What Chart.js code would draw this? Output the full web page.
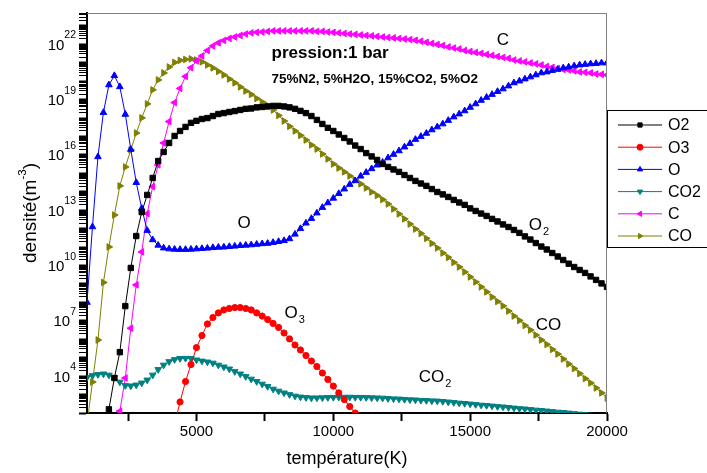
<!DOCTYPE html>
<html>
<head>
<meta charset="utf-8">
<script src="https://cdn.jsdelivr.net/npm/chart.js@4/dist/chart.umd.min.js"></script>
<style>
  html, body { margin: 0; padding: 0; background: #fff; }
  #wrap { width: 707px; height: 473px; }
</style>
</head>
<body>
<div id="wrap"><canvas id="chart"></canvas></div>
<script>
// temperature grid (K)
const temperatures = [
  1000, 1200, 1400, 1600, 1800, 2000, 2200, 2400, 2600, 2800,
  3000, 3200, 3400, 3600, 3800, 4000, 4200, 4400, 4600, 4800,
  5000, 5200, 5400, 5600, 5800, 6000, 6200, 6400, 6600, 6800,
  7000, 7200, 7400, 7600, 7800, 8000, 8200, 8400, 8600, 8800,
  9000, 9200, 9400, 9600, 9800, 10000, 10200, 10400, 10600, 10800,
  11000, 11200, 11400, 11600, 11800, 12000, 12200, 12400, 12600, 12800,
  13000, 13200, 13400, 13600, 13800, 14000, 14200, 14400, 14600, 14800,
  15000, 15200, 15400, 15600, 15800, 16000, 16200, 16400, 16600, 16800,
  17000, 17200, 17400, 17600, 17800, 18000, 18200, 18400, 18600, 18800,
  19000, 19200, 19400, 19600, 19800, 20000
];

// densities, stored as log10(m^-3)
const o2Exp = [
  null, null, null, 0.5, 2.2, 3.9, 5.3, 7.8, 9.87, 11.6,
  12.9, 13.83, 14.75, 15.67, 16.16, 16.65, 17.03, 17.3, 17.52, 17.74,
  17.85, 17.95, 18.0, 18.11, 18.22, 18.27, 18.33, 18.38, 18.44, 18.5,
  18.52, 18.58, 18.6, 18.63, 18.66, 18.66, 18.63, 18.58, 18.5, 18.39,
  18.27, 18.11, 17.9, 17.68, 17.47, 17.3, 17.11, 16.92, 16.73, 16.51,
  16.32, 16.1, 15.92, 15.73, 15.51, 15.35, 15.21, 15.08, 14.91, 14.75,
  14.59, 14.45, 14.32, 14.15, 13.99, 13.86, 13.72, 13.56, 13.42, 13.29,
  13.1, 12.96, 12.82, 12.69, 12.53, 12.39, 12.23, 12.09, 11.93, 11.77,
  11.58, 11.41, 11.22, 11.03, 10.87, 10.68, 10.49, 10.3, 10.1, 9.92,
  9.76, 9.6, 9.41, 9.22, 9.03, 8.84
];
const o3Exp = [
  null, null, null, null, null, null, null, null, null, null,
  null, null, null, null, null, null, 1.4, 2.6, 3.71, 4.63,
  5.55, 6.2, 6.83, 7.18, 7.43, 7.59, 7.67, 7.72, 7.72, 7.67,
  7.59, 7.43, 7.26, 7.07, 6.86, 6.64, 6.34, 6.02, 5.69, 5.42,
  5.12, 4.82, 4.52, 4.17, 3.82, 3.46, 3.09, 2.73, 2.35, 2.0,
  1.65, null, null, null, null, null, null, null, null, null,
  null, null, null, null, null, null, null, null, null, null,
  null, null, null, null, null, null, null, null, null, null,
  null, null, null, null, null, null, null, null, null, null,
  null, null, null, null, null, null
];
const oExp = [
  8.0, 12.1, 15.9, 18.3, 19.8, 20.3, 19.7, 18.2, 16.3, 14.5,
  13.1, 11.9, 11.4, 11.1, 10.95, 10.9, 10.88, 10.87, 10.87, 10.88,
  10.9, 10.92, 10.94, 10.97, 10.99, 11.0, 11.03, 11.05, 11.08, 11.1,
  11.12, 11.15, 11.18, 11.2, 11.25, 11.3, 11.35, 11.45, 11.7, 12.0,
  12.3, 12.55, 12.85, 13.15, 13.4, 13.65, 13.9, 14.15, 14.4, 14.6,
  14.85, 15.05, 15.25, 15.45, 15.6, 15.84, 16.03, 16.22, 16.43, 16.62,
  16.84, 17.0, 17.17, 17.36, 17.52, 17.68, 17.87, 18.06, 18.22, 18.39,
  18.58, 18.77, 18.96, 19.12, 19.28, 19.44, 19.58, 19.74, 19.91, 20.01,
  20.12, 20.23, 20.34, 20.45, 20.5, 20.58, 20.64, 20.72, 20.77, 20.83,
  20.88, 20.91, 20.94, 20.96, 20.99, 20.99
];
const co2Exp = [
  3.93, 4.03, 4.09, 4.12, 4.06, 3.93, 3.68, 3.49, 3.47, 3.52,
  3.63, 3.79, 4.06, 4.36, 4.6, 4.79, 4.9, 4.96, 4.97, 4.96,
  4.88, 4.82, 4.77, 4.71, 4.6, 4.5, 4.39, 4.25, 4.12, 3.98,
  3.84, 3.71, 3.57, 3.44, 3.3, 3.19, 3.09, 3.0, 2.92, 2.87,
  2.84, 2.82, 2.82, 2.83, 2.84, 2.85, 2.86, 2.86, 2.86, 2.85,
  2.85, 2.84, 2.83, 2.82, 2.81, 2.79, 2.77, 2.76, 2.74, 2.72,
  2.71, 2.69, 2.68, 2.66, 2.65, 2.63, 2.6, 2.57, 2.54, 2.52,
  2.49, 2.46, 2.43, 2.41, 2.38, 2.35, 2.33, 2.3, 2.27, 2.24,
  2.22, 2.19, 2.16, 2.14, 2.11, 2.08, 2.05, 2.03, 2.0, 1.97,
  1.94, 1.91, 1.88, 1.85, 1.82, 1.79
];
const cExp = [
  null, null, null, null, null, 0.3, 2.1, 3.9, 6.6, 8.95,
  10.74, 12.82, 14.28, 15.46, 16.65, 17.81, 18.84, 19.61, 20.26, 20.73,
  21.1, 21.37, 21.67, 21.91, 22.08, 22.21, 22.32, 22.4, 22.48, 22.56,
  22.62, 22.65, 22.67, 22.7, 22.73, 22.73, 22.73, 22.73, 22.73, 22.73,
  22.73, 22.73, 22.7, 22.7, 22.67, 22.65, 22.62, 22.59, 22.56, 22.54,
  22.51, 22.48, 22.46, 22.43, 22.4, 22.37, 22.35, 22.32, 22.29, 22.26,
  22.22, 22.17, 22.11, 22.05, 21.99, 21.94, 21.86, 21.8, 21.75, 21.67,
  21.61, 21.56, 21.51, 21.45, 21.4, 21.34, 21.29, 21.24, 21.15, 21.1,
  21.05, 20.99, 20.94, 20.88, 20.8, 20.75, 20.69, 20.64, 20.61, 20.56,
  20.5, 20.48, 20.45, 20.39, 20.37, 20.34
];
const coExp = [
  1.4, 3.68, 5.96, 9.08, 11.01, 12.74, 14.32, 15.35, 16.27, 17.19,
  18.01, 18.77, 19.53, 20.07, 20.45, 20.77, 21.02, 21.13, 21.18, 21.21,
  21.15, 21.05, 20.88, 20.72, 20.53, 20.34, 20.12, 19.91, 19.69, 19.47,
  19.28, 19.06, 18.87, 18.68, 18.44, 18.14, 17.84, 17.55, 17.3, 17.06,
  16.81, 16.54, 16.32, 16.05, 15.78, 15.51, 15.29, 15.08, 14.86, 14.64,
  14.43, 14.21, 13.99, 13.8, 13.58, 13.34, 13.07, 12.8, 12.53, 12.25,
  11.98, 11.74, 11.47, 11.2, 10.95, 10.68, 10.44, 10.17, 9.92, 9.65,
  9.38, 9.11, 8.84, 8.57, 8.29, 8.05, 7.81, 7.53, 7.26, 7.02,
  6.75, 6.5, 6.23, 5.96, 5.72, 5.45, 5.2, 4.93, 4.66, 4.41,
  4.14, 3.87, 3.63, 3.36, 3.09, 2.81
];

const xTicks = [2500, 5000, 7500, 10000, 12500, 15000, 17500, 20000];
const yTickExps = [4, 7, 10, 13, 16, 19, 22];

const FONT = '"Liberation Sans", Arial, sans-serif';

function series(label, exps, color, style, rotation, radius) {
  return {
    label: label,
    data: exps.map((e, i) => ({ x: temperatures[i], y: e === null ? null : Math.pow(10, e) })),
    borderColor: color,
    backgroundColor: color,
    borderWidth: 1,
    pointStyle: style,
    pointRotation: rotation,
    pointRadius: radius,
    pointBorderWidth: 1,
    pointBorderColor: color,
    pointBackgroundColor: color,
    tension: 0
  };
}

const datasets = [
  series('O2', o2Exp, '#000000', 'rect', 0, 3.8),
  series('O3', o3Exp, '#ff0000', 'circle', 0, 3.1),
  series('O', oExp, '#0000ff', 'triangle', 0, 3.8),
  series('CO2', co2Exp, '#008080', 'triangle', 180, 3.8),
  series('C', cExp, '#ff00ff', 'triangle', 270, 3.8),
  series('CO', coExp, '#808000', 'triangle', 90, 3.8)
];

// text drawn on the plot: [text, subscript, temperature, log10 density, font]
const notes = [
  ['pression:1 bar', '', 7743, 21.25, 'bold 17px ' + FONT],
  ['75%N2, 5%H2O, 15%CO2, 5%O2', '', 7743, 19.92, 'bold 13.5px ' + FONT],
  ['C', '', 15970, 21.97, '17px ' + FONT],
  ['O', '', 6500, 12.05, '17px ' + FONT],
  ['O', '2', 17143, 11.93, '17px ' + FONT],
  ['O', '3', 8219, 7.15, '17px ' + FONT],
  ['CO', '', 17400, 6.5, '17px ' + FONT],
  ['CO', '2', 13120, 3.68, '17px ' + FONT]
];

// log ticks: every decade plus 2..9 in between
const yAllTicks = [];
for (let d = 2; d <= 23; d++) {
  for (let m = 1; m <= 9; m++) {
    if (m * Math.pow(10, d) <= Math.pow(10, 23.7)) yAllTicks.push({ value: m * Math.pow(10, d), m: m, d: d });
  }
}

const decor = {
  id: 'decor',
  afterDraw(chart) {
    const ctx = chart.ctx;
    const a = chart.chartArea;
    const x = chart.scales.x, y = chart.scales.y;
    ctx.save();

    // top and right frame
    ctx.fillStyle = '#7f7f7f';
    ctx.fillRect(a.left, a.top, a.right - a.left, 1);
    ctx.fillRect(a.right - 1, a.top, 1, a.bottom - a.top);

    // y tick labels 10^n
    ctx.fillStyle = '#000';
    ctx.textAlign = 'right';
    ctx.textBaseline = 'alphabetic';
    for (const e of yTickExps) {
      const py = y.getPixelForValue(Math.pow(10, e));
      ctx.font = '10.5px ' + FONT;
      const ew = ctx.measureText(String(e)).width;
      ctx.fillText(String(e), 76, py - 6);
      ctx.font = '15px ' + FONT;
      ctx.fillText('10', 76 - ew, py + 5.5);
    }

    // y axis title
    ctx.save();
    ctx.translate(29, (a.top + a.bottom) / 2);
    ctx.rotate(-Math.PI / 2);
    ctx.textAlign = 'left';
    const big = '19px ' + FONT, small = '11.5px ' + FONT;
    ctx.font = big;
    const w1 = ctx.measureText('densité(m').width;
    const w3 = ctx.measureText(')').width;
    ctx.font = small;
    const w2 = ctx.measureText('-3').width;
    const sx = -(w1 + w2 + w3) / 2;
    ctx.font = big;
    ctx.fillText('densité(m', sx, 7);
    ctx.font = small;
    ctx.fillText('-3', sx + w1, -3);
    ctx.font = big;
    ctx.fillText(')', sx + w1 + w2, 7);
    ctx.restore();

    // notes on the plot
    ctx.textAlign = 'left';
    for (const [text, sub, t, e, font] of notes) {
      const px = x.getPixelForValue(t);
      const py = y.getPixelForValue(Math.pow(10, e));
      ctx.font = font;
      ctx.fillText(text, px, py);
      if (sub) {
        const w = ctx.measureText(text).width;
        ctx.font = '11px ' + FONT;
        ctx.fillText(sub, px + w + 1, py + 5);
      }
    }

    // legend box
    const lx = a.right, ly = 110, lh = 137;
    ctx.strokeStyle = '#000';
    ctx.lineWidth = 1;
    ctx.strokeRect(lx + 0.5, ly + 0.5, 120, lh);
    ctx.font = '16px ' + FONT;
    ctx.textBaseline = 'middle';
    chart.data.datasets.forEach((ds, i) => {
      const cy = ly + 15 + i * 22.2;
      ctx.strokeStyle = ds.borderColor;
      ctx.beginPath();
      ctx.moveTo(lx + 11, cy);
      ctx.lineTo(lx + 55, cy);
      ctx.stroke();
      ctx.fillStyle = ds.borderColor;
      Chart.helpers.drawPoint(ctx, {
        pointStyle: ds.pointStyle,
        rotation: ds.pointRotation,
        radius: 3,
        borderWidth: 1
      }, lx + 33, cy);
      ctx.fillStyle = '#000';
      ctx.fillText(ds.label, lx + 61, cy + 1);
    });

    ctx.restore();
  }
};

new Chart(document.getElementById('chart'), {
  type: 'line',
  data: { datasets: datasets },
  options: {
    responsive: true,
    maintainAspectRatio: false,
    animation: false,
    layout: { padding: { top: 13, right: 100, left: 0, bottom: 0 } },
    plugins: {
      legend: { display: false },
      tooltip: { enabled: false }
    },
    scales: {
      x: {
        type: 'linear',
        min: 1000,
        max: 20000,
        afterBuildTicks: (s) => { s.ticks = xTicks.map(v => ({ value: v })); },
        afterFit: (s) => { s.height = 60; },
        grid: {
          display: true,
          drawOnChartArea: false,
          drawTicks: true,
          tickLength: 8,
          tickColor: '#000',
          tickWidth: 2
        },
        border: { display: true, color: '#000', width: 2 },
        ticks: {
          font: { family: FONT, size: 15 },
          color: '#000',
          padding: 2,
          maxRotation: 0,
          autoSkip: false,
          callback: (v) => (v % 5000 === 0 ? String(v) : '')
        },
        title: {
          display: true,
          text: 'température(K)',
          font: { family: FONT, size: 18 },
          color: '#000',
          padding: { top: 0, bottom: 3 }
        }
      },
      y: {
        type: 'logarithmic',
        min: 100,
        max: Math.pow(10, 23.7),
        bounds: 'data',
        afterBuildTicks: (s) => { s.ticks = yAllTicks.map(t => ({ value: t.value })); },
        afterFit: (s) => { s.width = 87; },
        grid: {
          display: true,
          drawOnChartArea: false,
          drawTicks: true,
          tickLength: 8,
          tickColor: '#000',
          tickWidth: (c) => {
            const t = yAllTicks[c.index];
            if (!t) return 1;
            return t.m === 1 ? 2 : 1;
          }
        },
        border: { display: true, color: '#000', width: 2 },
        ticks: {
          display: true,
          autoSkip: false,
          padding: 0,
          font: { size: 1 },
          callback: () => ''
        }
      }
    }
  },
  plugins: [decor]
});
</script>
</body>
</html>
